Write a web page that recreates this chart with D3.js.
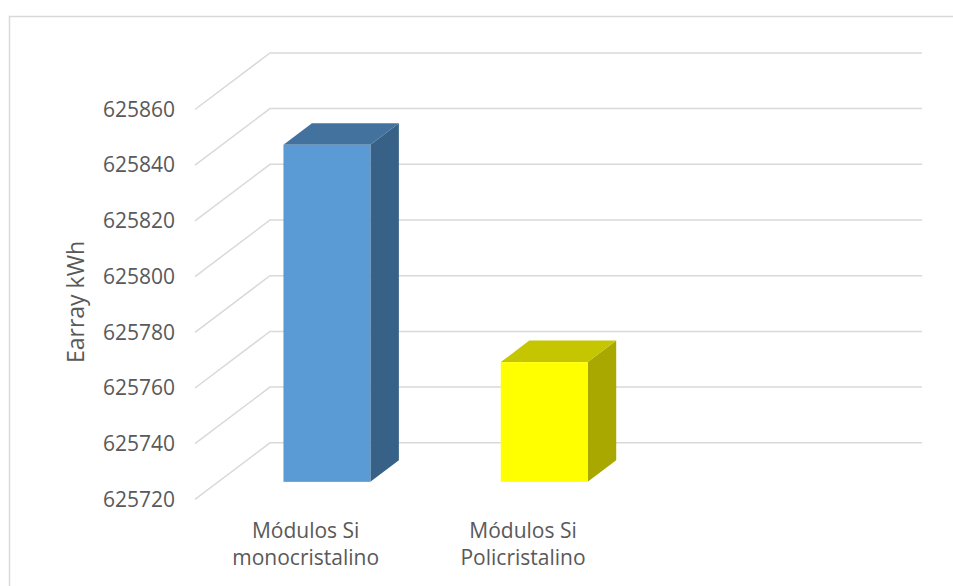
<!DOCTYPE html>
<html>
<head>
<meta charset="utf-8">
<script src="https://cdn.jsdelivr.net/npm/d3@7"></script>
<style>
  body { margin: 0; background: #fff; }
  text { font-family: "Open Sans", sans-serif; fill: #595959; }
</style>
</head>
<body>
<svg id="chart" width="953" height="586"></svg>
<script>
// data
var categories = [["Módulos Si", "monocristalino"], ["Módulos Si", "Policristalino"], [""]];
var values = [625841, 625763, null];
var colors = [
    { front: "#5b9bd5", top: "#44729f", side: "#376186" },
    { front: "#ffff00", top: "#c6c600", side: "#a8a800" }
];
var yTicks = [625720, 625740, 625760, 625780, 625800, 625820, 625840, 625860];
var yTitle = "Earray kWh";

var svg = d3.select("#chart");

// frame
svg.append("rect")
    .attr("x", 9.5).attr("y", 16.5)
    .attr("width", 960).attr("height", 600)
    .attr("fill", "none").attr("stroke", "#d9d9d9").attr("stroke-width", 1.5);

// 3d projection: depth 0 = front of floor, 1 = back wall
var depthX = 75, depthY = -56.6;
var floorLeft = 195, floorRight = 847;

var x = d3.scaleBand()
    .domain(d3.range(categories.length))
    .range([floorLeft, floorRight]);

var y = d3.scaleLinear()
    .domain([625720, 625860])
    .range([499.4, 109.5]);

function px(xv, d) { return xv + d * depthX; }
function py(v, d) { return y(v) + d * depthY; }

// gridlines: slanted on the side wall, flat on the back wall
var grid = svg.append("g").attr("stroke", "#d9d9d9").attr("stroke-width", 1.5).attr("fill", "none");
yTicks.forEach(function (t) {
    grid.append("path")
        .attr("d", "M" + px(floorLeft, 0) + "," + py(t, 0) +
                   "L" + px(floorLeft, 1) + "," + py(t, 1) +
                   "L" + px(floorRight, 1) + "," + py(t, 1));
});

// y axis labels
var yAxis = svg.append("g")
    .attr("transform", "translate(" + floorLeft + ",0)")
    .call(d3.axisLeft(y).tickValues(yTicks).tickSize(0).tickPadding(20).tickFormat(d3.format("d")));
yAxis.select(".domain").remove();
yAxis.selectAll("text")
    .style("font-family", "'Open Sans', sans-serif")
    .style("font-size", "21px")
    .attr("fill", "#595959");

svg.append("text")
    .attr("transform", "translate(84,302) rotate(-90)")
    .attr("text-anchor", "middle")
    .style("font-size", "23px")
    .text(yTitle);

// bars
var d0 = 0.31, d1 = 0.69, barFrac = 0.4;
var base = y.domain()[0];
values.forEach(function (v, i) {
    if (v == null) return;
    var c = colors[i];
    var bw = x.bandwidth() * barFrac;
    var xl = x(i) + (x.bandwidth() - bw) / 2;
    var xr = xl + bw;
    var g = svg.append("g");
    // side face
    g.append("path")
        .attr("fill", c.side)
        .attr("d", "M" + px(xr, d0) + "," + py(base, d0) +
                   "L" + px(xr, d1) + "," + py(base, d1) +
                   "L" + px(xr, d1) + "," + py(v, d1) +
                   "L" + px(xr, d0) + "," + py(v, d0) + "Z");
    // top face
    g.append("path")
        .attr("fill", c.top)
        .attr("d", "M" + px(xl, d0) + "," + py(v, d0) +
                   "L" + px(xr, d0) + "," + py(v, d0) +
                   "L" + px(xr, d1) + "," + py(v, d1) +
                   "L" + px(xl, d1) + "," + py(v, d1) + "Z");
    // front face
    g.append("rect")
        .attr("fill", c.front)
        .attr("x", px(xl, d0))
        .attr("y", py(v, d0))
        .attr("width", bw)
        .attr("height", py(base, d0) - py(v, d0));
});

// category labels
categories.forEach(function (lines, i) {
    var t = svg.append("text")
        .attr("text-anchor", "middle")
        .style("font-size", "21px");
    lines.forEach(function (s, k) {
        t.append("tspan")
            .attr("x", x(i) + x.bandwidth() / 2 + 2)
            .attr("y", 537.5 + k * 27.7)
            .text(s);
    });
});
</script>
</body>
</html>
